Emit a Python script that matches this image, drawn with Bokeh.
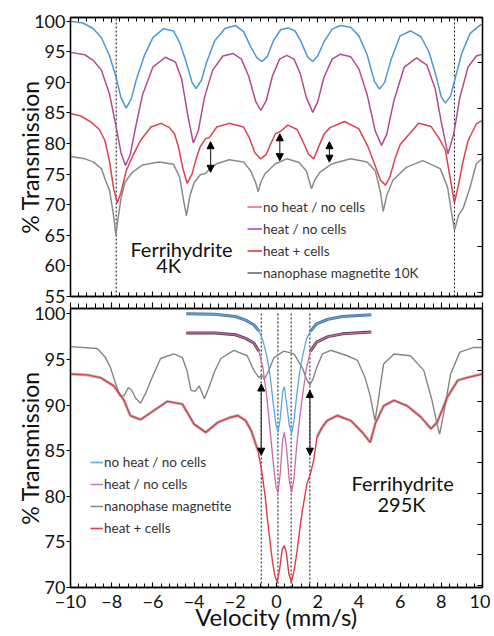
from bokeh.plotting import figure
from bokeh.models import (Range1d, LinearAxis, SingleIntervalTicker, Label, Legend,
                          LegendItem, Arrow, NormalHead, ColumnDataSource, CustomJSTickFormatter)
from bokeh.layouts import column
from bokeh.embed import file_html
from bokeh.resources import INLINE

FONT = "Lato"

# ---------------- data: Ferrihydrite 4K (top panel) ----------------
V_BLUE_4K = [-10, -9.4, -8.9, -8.5, -8.1, -7.8, -7.55, -7.3, -7.05, -6.8, -6.4, -6.0, -5.5, -5.0,
             -4.7, -4.4, -4.1, -3.9, -3.65, -3.4, -3.0, -2.5, -2.0, -1.6, -1.25, -0.95, -0.7,
             -0.45, -0.15, 0.2, 0.55, 0.9, 1.2, 1.5, 1.76, 2.0, 2.3, 2.7, 3.1, 3.6, 4.0, 4.4,
             4.75, 5.0, 5.25, 5.55, 6.0, 6.5, 7.0, 7.4, 7.75, 8.0, 8.2, 8.45, 8.7, 9.0, 9.4, 9.9, 10]
T_BLUE_4K = [100.0, 99.7, 98.8, 97.3, 94.3, 91.0, 87.5, 85.8, 87.3, 90.5, 94.5, 97.3, 98.75, 98.4,
             96.5, 93.5, 90.0, 89.0, 90.3, 93.2, 96.8, 98.8, 99.3, 98.3, 95.8, 94.0, 93.4,
             94.2, 96.8, 98.6, 98.9, 98.4, 96.6, 94.2, 93.4, 94.3, 96.6, 98.7, 99.3, 99.0, 97.6, 94.5,
             90.2, 88.9, 90.0, 93.6, 97.6, 98.4, 97.5, 95.0, 91.0, 87.6, 86.6, 87.8, 91.0, 94.8, 98.0, 99.4, 99.4]

V_PURPLE_4K = [-10, -9.3, -8.9, -8.5, -8.1, -7.8, -7.55, -7.33, -7.1, -6.85, -6.5, -6.0, -5.4, -4.9,
               -4.6, -4.3, -4.04, -3.8, -3.5, -3.1, -2.6, -2.1, -1.7, -1.35, -1.0, -0.76, -0.5, -0.2,
               0.15, 0.5, 0.85, 1.15, 1.45, 1.76, 2.0, 2.3, 2.7, 3.1, 3.6, 4.0, 4.4, 4.8, 5.1, 5.35,
               5.7, 6.2, 6.8, 7.3, 7.7, 8.0, 8.32, 8.6, 8.9, 9.3, 9.7, 10]
T_PURPLE_4K = [94.9, 94.5, 93.6, 92.0, 88.0, 83.0, 78.5, 76.4, 78.2, 82.5, 88.0, 92.5, 94.1, 93.3,
               90.5, 84.5, 80.1, 82.0, 87.5, 92.0, 94.3, 94.7, 93.8, 91.0, 86.8, 85.4, 87.0, 91.0,
               93.8, 94.4, 93.8, 91.5, 87.5, 85.1, 86.8, 90.8, 93.8, 94.6, 94.2, 92.2, 88.0, 82.0, 79.7, 81.5,
               87.0, 92.5, 94.0, 92.8, 89.0, 83.5, 78.3, 81.5, 87.5, 92.5, 94.3, 94.6]

V_RED_4K = [-10, -9.5, -9.0, -8.6, -8.33, -8.1, -7.9, -7.73, -7.55, -7.3, -6.95, -6.6, -6.1, -5.6,
            -5.2, -4.95, -4.75, -4.55, -4.34, -4.1, -3.9, -3.7, -3.44, -3.25, -2.9, -2.3, -1.6, -1.3,
            -1.05, -0.78, -0.5, -0.3, -0.05, 0.2, 0.55, 1.0, 1.3, 1.55, 1.81, 2.05, 2.3, 2.6, 3.3, 4.0,
            4.45, 4.8, 5.05, 5.29, 5.5, 5.75, 6.0, 6.3, 6.9, 7.5, 7.9, 8.2, 8.45, 8.64, 8.85, 9.05,
            9.3, 9.7, 10]
T_RED_4K = [84.9, 84.5, 83.5, 82.3, 80.5, 77.0, 72.5, 70.3, 72.0, 75.5, 78.2, 80.5, 82.7, 83.3,
            82.6, 81.6, 79.3, 76.0, 73.5, 75.0, 77.5, 79.5, 80.8, 81.0, 82.7, 83.3, 82.7, 80.8,
            78.5, 77.5, 78.2, 79.8, 81.6, 82.0, 83.0, 82.3, 80.2, 78.3, 77.5, 79.5, 81.5, 82.6, 83.6, 82.4,
            79.4, 76.3, 74.0, 73.2, 74.5, 77.5, 79.8, 81.0, 83.3, 82.8, 80.8, 78.9, 74.0, 70.3, 73.5, 77.0,
            80.5, 83.2, 83.8]

V_GRAY_4K = [-10, -9.3, -8.9, -8.5, -8.3, -8.1, -7.9, -7.8, -7.68, -7.55, -7.35, -7.0, -6.5, -5.7,
             -5.0, -4.7, -4.5, -4.37, -4.2, -4.0, -3.7, -3.45, -3.2, -2.9, -2.3, -1.6, -1.25, -1.0,
             -0.89, -0.75, -0.55, -0.05, 0.5, 1.1, 1.45, 1.7, 1.85, 2.1, 2.7, 3.6, 4.4, 4.8, 5.05,
             5.18, 5.35, 5.65, 6.3, 7.1, 7.95, 8.3, 8.48, 8.64, 8.84, 9.07, 9.4, 9.7, 10]
T_GRAY_4K = [77.9, 77.5, 77.0, 75.9, 74.0, 72.3, 68.0, 65.0, 68.0, 71.0, 73.7, 75.3, 76.5, 77.0,
             76.6, 74.5, 70.5, 68.2, 71.5, 73.6, 74.9, 75.1, 76.0, 76.7, 77.35, 77.0, 75.5, 73.5,
             72.1, 73.8, 75.1, 76.7, 77.5, 76.9, 75.5, 72.6, 74.0, 75.3, 76.7, 77.5, 77.0, 75.5, 72.0,
             68.9, 71.5, 74.0, 76.1, 77.2, 75.9, 72.9, 69.1, 65.8, 68.3, 69.5, 72.9, 76.7, 77.6]

TOP_DOTTED_V = [-7.78, 8.64]
TOP_ARROW_V = [-3.2, 0.16, 2.57]
TOP_ARROW_LO = [75.3, 77.2, 76.95]
TOP_ARROW_HI = [80.3, 81.6, 80.3]
TOP_LEGEND = ["no heat / no cells", "heat / no cells", "heat + cells", "nanophase magnetite 10K"]

# ---------------- data: Ferrihydrite 295K (bottom panel) ----------------
V_BLUE_295 = [-4.38, -3.0, -2.0, -1.5, -1.1, -0.85, -0.65, -0.45, -0.3, -0.15, -0.02, 0.07, 0.18,
              0.3, 0.38, 0.5, 0.62, 0.73, 0.85, 0.98, 1.12, 1.25, 1.45, 1.65, 1.95, 2.5, 3.2, 4.6]
T_BLUE_295 = [100.0, 99.95, 99.7, 99.3, 98.8, 98.1, 97.0, 95.2, 93.0, 90.0, 87.8, 87.0, 88.5,
              91.5, 92.0, 90.0, 87.8, 86.9, 88.3, 91.0, 93.5, 95.2, 97.2, 98.1, 98.9, 99.4, 99.7, 99.9]

V_PURPLE_295 = V_BLUE_295
T_PURPLE_295 = [97.9, 97.9, 97.7, 97.3, 96.8, 95.9, 94.0, 90.5, 87.0, 83.5, 81.0, 80.4, 82.5,
                86.2, 87.0, 85.0, 81.8, 80.4, 82.0, 85.5, 88.5, 90.8, 94.0, 95.9, 96.9, 97.5, 97.8, 98.0]

V_GRAY_295 = [-10, -8.7, -8.3, -8.06, -7.8, -7.6, -7.4, -7.2, -7.05, -6.85, -6.6, -6.35, -6.1, -5.63,
              -4.98, -4.57, -4.35, -4.15, -3.95, -3.75, -3.5, -3.3, -3.0, -2.7, -2.07, -1.42, -1.1,
              -0.85, -0.72, -0.6, -0.45, -0.12, 0.36, 0.85, 1.25, 1.45, 1.62, 1.78, 1.95, 2.23, 2.63,
              3.44, 3.93, 4.3, 4.55, 4.78, 4.92, 5.2, 5.7, 6.5, 7.15, 7.55, 7.8, 7.92, 8.12, 8.45,
              8.9, 9.55, 10]
T_GRAY_295 = [96.4, 96.2, 95.2, 94.1, 92.3, 91.0, 91.0, 91.9, 91.7, 90.8, 90.2, 91.3, 92.7, 95.1,
              95.6, 95.2, 93.8, 91.6, 91.5, 92.1, 90.7, 91.8, 93.7, 95.1, 96.0, 95.4, 93.8,
              93.0, 93.3, 92.8, 93.4, 95.2, 95.9, 95.6, 94.1, 92.9, 92.2, 92.9, 94.1, 95.6, 96.0,
              95.4, 94.9, 93.0, 91.0, 88.3, 90.2, 94.5, 95.6, 95.4, 93.8, 90.5, 87.8, 86.8, 89.1, 93.4,
              95.8, 96.3, 96.3]

V_RED_295 = [-10, -9.2, -8.54, -7.9, -7.4, -7.1, -6.6, -5.95, -5.3, -4.57, -4.0, -3.43, -2.85, -2.3,
             -1.88, -1.5, -1.23, -0.9, -0.72, -0.55, -0.45, -0.3, -0.2, -0.08, 0.03, 0.15, 0.28, 0.38,
             0.48, 0.6, 0.72, 0.85, 1.0, 1.12, 1.24, 1.48, 1.65, 1.8, 1.97, 2.2, 2.46, 2.95, 3.6,
             4.17, 4.55, 4.8, 5.2, 5.7, 6.35, 7.0, 7.5, 7.8, 8.3, 8.8, 9.25, 10]
T_RED_295 = [93.4, 93.3, 93.0, 92.1, 90.5, 88.85, 88.4, 89.4, 90.4, 90.1, 87.9, 87.0, 88.1, 88.6,
             88.85, 88.3, 87.2, 85.0, 82.8, 80.0, 77.7, 74.8, 72.9, 71.3, 70.6, 72.0, 74.2, 74.6,
             73.8, 71.5, 70.6, 71.8, 74.0, 76.2, 78.2, 81.4, 82.5, 83.9, 86.5, 87.5, 88.3, 88.85, 88.3,
             87.0, 85.9, 88.0, 89.9, 90.5, 89.9, 88.7, 87.4, 88.1, 90.9, 92.7, 93.0, 93.4]

BOT_DOTTED_V = [-0.74, 0.07, 0.71, 1.62]
BOT_DOTTED_TOP = 100.2
BOT_ARROW_V = [-0.74, 1.62]
BOT_ARROW_LO = [84.5, 84.5]
BOT_ARROW_HI = [92.3, 91.6]
BOT_LEGEND = ["no heat / no cells", "heat / no cells", "nanophase magnetite", "heat + cells"]

Y_TITLE = "% Transmission"
X_TITLE = "Velocity (mm/s)"

EMPTY = CustomJSTickFormatter(code="return ''")


def base_fig(height, yr, border_top, border_bottom):
    p = figure(width=490, height=height, x_range=Range1d(-10, 10), y_range=Range1d(*yr),
               output_backend="svg", toolbar_location=None,
               x_axis_location=None, y_axis_location=None,
               min_border_left=70, min_border_right=8,
               min_border_top=border_top, min_border_bottom=border_bottom)
    p.grid.visible = False
    p.outline_line_color = "black"
    p.outline_line_width = 1.3
    p.background_fill_color = "white"
    return p


def left_axis(p):
    ax = LinearAxis(ticker=SingleIntervalTicker(interval=5, num_minor_ticks=0),
                    axis_label=Y_TITLE, axis_label_standoff=-13,
                    axis_label_text_font=FONT, axis_label_text_font_size="23px",
                    axis_label_text_font_style="normal", axis_label_text_color="#111111",
                    major_label_text_font=FONT, major_label_text_font_size="18px",
                    major_label_text_color="#111111", major_label_standoff=1,
                    major_tick_out=4, major_tick_in=0, minor_tick_out=0, minor_tick_in=0,
                    axis_line_color="black", axis_line_width=1.3, major_tick_line_width=1.2)
    p.add_layout(ax, "left")


def right_axis(p, name, rng):
    p.extra_y_ranges = {name: Range1d(*rng)}
    ax = LinearAxis(y_range_name=name, ticker=SingleIntervalTicker(interval=1, num_minor_ticks=0),
                    formatter=EMPTY, major_label_standoff=0,
                    major_tick_in=5, major_tick_out=0, minor_tick_in=0, minor_tick_out=0,
                    axis_line_color="black", axis_line_width=1.3, major_tick_line_width=1.2)
    p.add_layout(ax, "right")


def x_axis(p, where, tick_in, tick_out, labels=False):
    kw = dict(ticker=SingleIntervalTicker(interval=2, num_minor_ticks=5),
              major_tick_in=tick_in, major_tick_out=tick_out,
              minor_tick_in=max(tick_in - 1, 0), minor_tick_out=max(tick_out - 1, 0),
              axis_line_color="black", axis_line_width=1.3,
              major_tick_line_width=1.1, minor_tick_line_width=1.0)
    if labels:
        kw.update(major_label_text_font=FONT, major_label_text_font_size="18px",
                  major_label_text_color="#111111", major_label_standoff=7,
                  axis_label=X_TITLE, axis_label_standoff=-9,
                  axis_label_text_font=FONT, axis_label_text_font_size="24px",
                  axis_label_text_font_style="normal", axis_label_text_color="#111111")
    else:
        kw.update(formatter=EMPTY, major_label_standoff=0)
    p.add_layout(LinearAxis(**kw), where)


def legend(p, labels, colors, loc, gw, gh, sp):
    items = []
    for lab, col in zip(labels, colors):
        r = p.line(x=[float("nan")], y=[float("nan")], line_color=col, line_width=1.6)
        items.append(LegendItem(label=lab, renderers=[r]))
    lg = Legend(items=items, location=loc, orientation="vertical",
                border_line_alpha=0, background_fill_alpha=0, padding=0, margin=0,
                spacing=sp, glyph_width=gw, glyph_height=gh, label_height=gh,
                label_standoff=1, label_text_font=FONT, label_text_font_size="13.5px",
                label_text_color="#333333")
    p.add_layout(lg)


def arrows(p, xs, lo, hi):
    src = ColumnDataSource(dict(x=xs, lo=lo, hi=hi))
    p.add_layout(Arrow(x_start="x", y_start="lo", x_end="x", y_end="hi", source=src,
                       line_color="#333333", line_width=1.2,
                       start=NormalHead(size=7, fill_color="black", line_color="black"),
                       end=NormalHead(size=7, fill_color="black", line_color="black")))


def text(p, x, y, s, size="20px"):
    p.add_layout(Label(x=x, y=y, text=s, text_align="center", text_baseline="middle",
                       text_font=FONT, text_font_size=size, text_color="#111111"))


# ---------------- top panel ----------------
p1 = base_fig(310, (55, 100.6), 17, 14)
left_axis(p1)
right_axis(p1, "rt", (-0.093, 5.987))
x_axis(p1, "above", 5, 0)
x_axis(p1, "below", 5, 0)

p1.segment(x0=TOP_DOTTED_V, y0=[55] * len(TOP_DOTTED_V), x1=TOP_DOTTED_V,
           y1=[100.6] * len(TOP_DOTTED_V), line_color="#222222", line_width=1.1, line_dash="2 2")
p1.line(V_GRAY_4K, T_GRAY_4K, line_color="#8a8a8a", line_width=1.5)
p1.line(V_RED_4K, T_RED_4K, line_color="#d8434f", line_width=1.5)
p1.line(V_PURPLE_4K, T_PURPLE_4K, line_color="#b44a8c", line_width=1.5)
p1.line(V_BLUE_4K, T_BLUE_4K, line_color="#4a98d8", line_width=1.5)
arrows(p1, TOP_ARROW_V, TOP_ARROW_LO, TOP_ARROW_HI)
legend(p1, TOP_LEGEND, ["#e8707e", "#b548c0", "#d83a48", "#6a6a6a"], (177, 13), 15, 21, 1)
text(p1, -4.61, 62.7, "Ferrihydrite")
text(p1, -5.24, 60.1, "4K")

# ---------------- bottom panel ----------------
p2 = base_fig(340, (70, 100.58), 12, 49)
p2.border_fill_alpha = 0
p2.margin = (-14, 0, 0, 0)
left_axis(p2)
right_axis(p2, "rb", (-0.059, 9.015))
x_axis(p2, "above", 0, 6)
x_axis(p2, "below", 5, 0, labels=True)

p2.segment(x0=BOT_DOTTED_V, y0=[70] * len(BOT_DOTTED_V), x1=BOT_DOTTED_V,
           y1=[BOT_DOTTED_TOP] * len(BOT_DOTTED_V), line_color="#222222", line_width=1.1,
           line_dash="2 2")


def split(vs, ts, lo, hi):
    a = [(v, t) for v, t in zip(vs, ts) if v <= lo]
    b = [(v, t) for v, t in zip(vs, ts) if v >= hi]
    return [[q[0] for q in a], [q[0] for q in b]], [[q[1] for q in a], [q[1] for q in b]]


gx, gy = split(V_RED_295, T_RED_295, -0.9, 1.97)
p2.multi_line(gx, gy, line_color="#a0a0a0", line_width=3.0, line_alpha=0.7)
p2.line(V_GRAY_295, T_GRAY_295, line_color="#858585", line_width=1.4)
p2.line(V_RED_295, T_RED_295, line_color="#dd3c48", line_width=1.4)
bx, by = split(V_BLUE_295, T_BLUE_295, -0.75, 1.62)
p2.multi_line(bx, by, line_color="#34557e", line_width=3, line_alpha=0.85)
px_, py_ = split(V_PURPLE_295, T_PURPLE_295, -0.75, 1.62)
p2.multi_line(px_, py_, line_color="#3b1d28", line_width=3, line_alpha=0.85)
p2.line(V_PURPLE_295, T_PURPLE_295, line_color="#c96aa8", line_width=1.3)
p2.line(V_BLUE_295, T_BLUE_295, line_color="#5aa6e0", line_width=1.3)
arrows(p2, BOT_ARROW_V, BOT_ARROW_LO, BOT_ARROW_HI)
legend(p2, BOT_LEGEND, ["#5aaee6", "#c77dd0", "#8c8c8c", "#e0454f"], (20, 48), 13, 22, 0)
text(p2, 6.12, 81.5, "Ferrihydrite")
text(p2, 6.07, 79.2, "295K")

layout = column(p1, p2)
open("out.html", "w").write(file_html(layout, INLINE))
